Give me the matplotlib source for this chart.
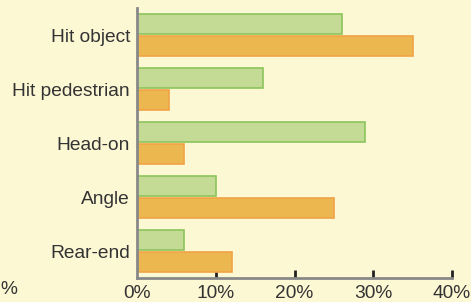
import matplotlib
matplotlib.use("Agg")
import matplotlib.pyplot as plt
from matplotlib.ticker import FuncFormatter

categories = ["Hit object", "Hit pedestrian", "Head-on", "Angle", "Rear-end"]
green_vals = [26, 16, 29, 10, 6]
orange_vals = [35, 4, 6, 25, 12]
xticks = [0, 10, 20, 30, 40]

bg = "#FDF8D4"
plt.rcParams['font.family'] = ['Liberation Sans', 'DejaVu Sans']

fig = plt.figure(figsize=(4.71, 3.02), dpi=100)
fig.patch.set_facecolor(bg)
ax = fig.add_axes([137/471, 24/302, 315/471, 270/302])
ax.set_facecolor(bg)

n = len(categories)
pos = list(range(n))
h = 0.37
ax.barh([p - h/2 - 0.01 for p in pos], green_vals, height=h, color="#C3DB95",
        edgecolor="#8CC55C", linewidth=1.2, zorder=3)
ax.barh([p + h/2 + 0.01 for p in pos], orange_vals, height=h, color="#EDB750",
        edgecolor="#F0A345", linewidth=1.2, zorder=3)

ax.set_ylim(n - 0.5, -0.5)
ax.set_xlim(0, 40)
ax.set_yticks(pos)
ax.set_yticklabels(categories)
ax.set_xticks(xticks)
ax.xaxis.set_major_formatter(FuncFormatter(lambda v, p: f"{int(v)}%"))

for s in ["top", "right"]:
    ax.spines[s].set_visible(False)
for s in ["left", "bottom"]:
    ax.spines[s].set_color("#888888")
    ax.spines[s].set_linewidth(2)
    ax.spines[s].set_zorder(4)

fs = 13.8
ax.tick_params(axis='y', length=0, pad=5, labelsize=fs, labelcolor="#333333")
ax.tick_params(axis='x', direction='in', length=6, width=2, color="#222222",
               pad=5, labelsize=fs, labelcolor="#333333")
ax.xaxis.get_major_ticks()[0].tick1line.set_visible(False)

fig.text(0.5/471, 1 - 290/302, "%", ha='left', va='center', fontsize=fs, color="#333333")

fig.savefig("out.png", dpi=100, facecolor=bg)
